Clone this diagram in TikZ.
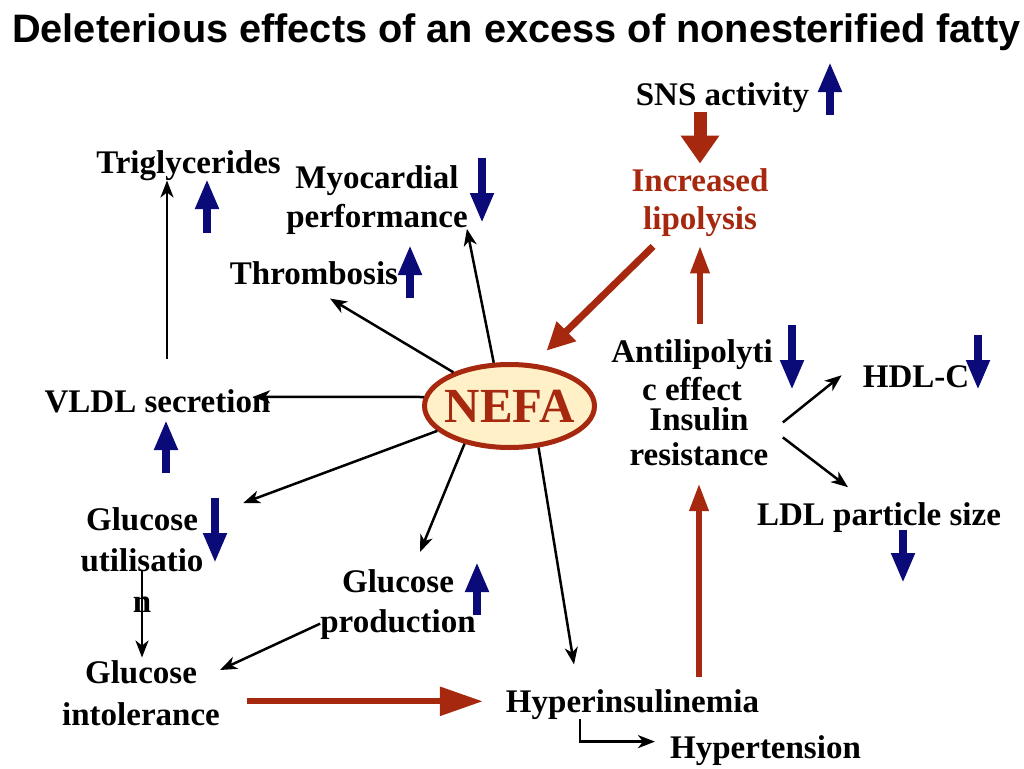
\documentclass[tikz,border=0pt]{standalone}
\usepackage{fontspec}
\setmainfont{Liberation Serif}
\newfontfamily\headfont{Liberation Sans}
\usetikzlibrary{arrows.meta,shapes.geometric}
\definecolor{nefared}{RGB}{165,40,15}
\definecolor{nefacream}{RGB}{255,240,200}
\definecolor{indblue}{RGB}{10,10,120}

\begin{document}
\begin{tikzpicture}[x=1pt,y=-1pt,
    lbl/.style={inner sep=0pt,align=center,font=\bfseries\fontsize{33}{40}\selectfont},
    blk/.style={-{Stealth[length=17pt,width=13pt,inset=5pt]},line width=2.5pt,black},
    indarrow/.style={-{Triangle[width=22pt,length=30pt]},line width=8pt,indblue},
    redfat/.style={-{Triangle[width=37pt,length=28pt]},line width=13pt,nefared},
    redbig/.style={-{Triangle[width=26pt,length=28pt]},line width=7pt,nefared},
    redlong/.style={-{Triangle[width=28pt,length=43pt]},line width=6pt,nefared},
    redup/.style={-{Triangle[width=18pt,length=28pt]},line width=6.5pt,nefared}]
    \useasboundingbox (0,0) rectangle (1024,768);

    \node[anchor=base west,inner sep=0pt,font=\headfont\bfseries\fontsize{39.7}{44}\selectfont] (title) at (12,43) {Deleterious effects of an excess of nonesterified fatty};

    \node[ellipse,draw=nefared,line width=5pt,fill=nefacream,minimum width=170pt,minimum height=83pt,inner xsep=-10pt,inner ysep=0pt,text=nefared,font=\bfseries\fontsize{49}{49}\selectfont] (nefa) at (509.5,406) {NEFA};

    \node[lbl,anchor=base] (sns) at (722.5,105) {SNS activity};
    \node[lbl,anchor=north,text=nefared,font=\bfseries\fontsize{33}{38}\selectfont] (lipo) at (700,168) {Increased\\lipolysis};
    \node[lbl,anchor=north,font=\bfseries\fontsize{33}{38}\selectfont] (anti) at (692,339.5) {Antilipolyti\\c effect};
    \node[lbl,anchor=north,font=\bfseries\fontsize{33}{35}\selectfont] (insres) at (699,407.5) {Insulin\\resistance};
    \node[lbl,anchor=base] (hdl) at (916,387) {HDL-C};
    \node[lbl,anchor=base] (ldl) at (879,525) {LDL particle size};

    \node[lbl,anchor=base] (trig) at (188.5,173) {Triglycerides};
    \node[lbl,anchor=north,font=\bfseries\fontsize{33}{39}\selectfont] (myo) at (377,165.5) {Myocardial\\performance};
    \node[lbl,anchor=base] (thromb) at (314,284) {Thrombosis};
    \node[lbl,anchor=base] (vldl) at (157.5,412) {VLDL secretion};
    \node[lbl,anchor=north,font=\bfseries\fontsize{33}{41}\selectfont] (util) at (142,507.5) {Glucose\\utilisatio\\n};
    \node[lbl,anchor=north] (prod) at (398,569.5) {Glucose\\production};
    \node[lbl,anchor=north,font=\bfseries\fontsize{33}{42}\selectfont] (intol) at (141,660.5) {Glucose\\intolerance};
    \node[lbl,anchor=base] (hyperins) at (632.5,712) {Hyperinsulinemia};
    \node[lbl,anchor=base] (hypert) at (765.5,758) {Hypertension};

    % NEFA effects
    \draw[blk] (nefa.110) -- ([shift={(-1,-6)}]myo.south east);
    \draw[blk] (nefa.149) -- ([shift={(16,14)}]thromb.south);
    \draw[blk] (nefa.174) -- ([shift={(-17.5,-4)}]vldl.east);
    \draw[blk] (nefa.199) -- ([shift={(39.6,-4.5)}]util.north east);
    \draw[blk] (nefa.220) -- ([shift={(22,-17.5)}]prod.north);
    \draw[blk] (nefa.305) -- ([shift={(-58.5,-24.5)}]hyperins.north);

    % lipids and glucose
    \draw[blk] ([shift={(9.5,-30)}]vldl.north) -- ([xshift=9.5pt]vldl.north |- trig.south);
    \draw[blk] ([yshift=-62.5pt]util.north) -- ([yshift=3pt]util.north |- intol.north);
    \draw[blk] ([yshift=-19pt]prod.west) -- ([shift={(0,9.5)}]intol.north east);

    % insulin resistance
    \draw[blk] ([shift={(14.3,-14.4)}]insres.east) -- ([shift={(-21,-1)}]hdl.west);
    \draw[blk] ([shift={(14.3,0.6)}]insres.east) -- ([shift={(-31,-14.7)}]ldl.north);
    \draw[blk] ([xshift=-52.5pt]hyperins.south) |- ([shift={(-15,-8.5)}]hypert.west);

    % red pathway
    \draw[redfat] (lipo.north |- sns.south) -- ([yshift=4.5pt]lipo.north);
    \draw[redbig] ([shift={(21.7,10)}]lipo.south west) -- ([shift={(9.8,-13.4)}]nefa.57);
    \draw[redup] ([yshift=16pt]lipo.south |- anti.north) -- ([yshift=-9pt]lipo.south);
    \draw[redup] ([yshift=12pt]insres.south |- hyperins.north) -- ([yshift=-17pt]insres.south);
    \draw[redlong] ([shift={(27,8)}]intol.east) -- ([shift={(-23,8)}]intol.east -| hyperins.west);

    % up and down markers
    \draw[indarrow] (830,115) -- (830,62);
    \draw[indarrow] (207,233) -- (207,179);
    \draw[indarrow] (482,158) -- (482,223);
    \draw[indarrow] (410,298) -- (410,245);
    \draw[indarrow] (166,473) -- (166,420);
    \draw[indarrow] (215,498) -- (215,563);
    \draw[indarrow] (477,615) -- (477,562);
    \draw[indarrow] (792,325) -- (792,390);
    \draw[indarrow] (978,335) -- (978,390);
    \draw[indarrow] (903,530) -- (903,583);
\end{tikzpicture}
\end{document}
